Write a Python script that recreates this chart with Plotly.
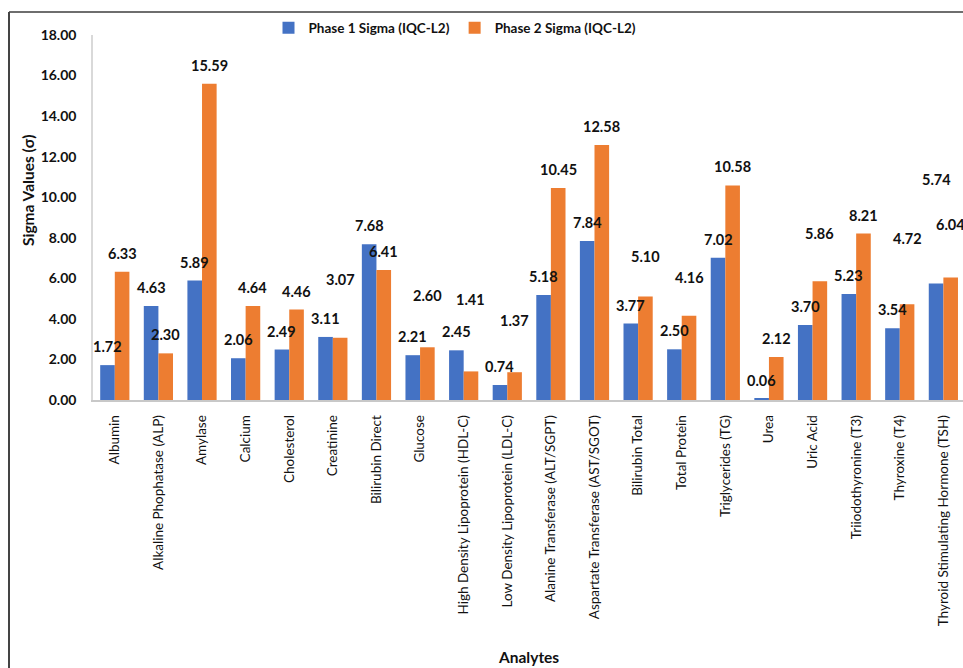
import plotly.graph_objects as go

# ---------------- data ----------------
analytes = [
    "Albumin", "Alkaline Phophatase (ALP)", "Amylase", "Calcium", "Cholesterol",
    "Creatinine", "Bilirubin Direct", "Glucose", "High Density Lipoprotein (HDL-C)",
    "Low Density Lipoprotein (LDL-C)", "Alanine Transferase (ALT/SGPT)",
    "Aspartate Transferase (AST/SGOT)", "Bilirubin Total", "Total Protein",
    "Triglycerides (TG)", "Urea", "Uric Acid", "Triiodothyronine (T3)",
    "Thyroxine (T4)", "Thyroid Stimulating Hormone (TSH)",
]
phase1_sigma = [1.72, 4.63, 5.89, 2.06, 2.49, 3.11, 7.68, 2.21, 2.45, 0.74,
                5.18, 7.84, 3.77, 2.50, 7.02, 0.06, 3.70, 5.23, 3.54, 5.74]
phase2_sigma = [6.33, 2.30, 15.59, 4.64, 4.46, 3.07, 6.41, 2.60, 1.41, 1.37,
                10.45, 12.58, 5.10, 4.16, 10.58, 2.12, 5.86, 8.21, 4.72, 6.04]
y_ticks = [0, 2, 4, 6, 8, 10, 12, 14, 16, 18]

# ---------------- styling / layout ----------------
# extra upward shift (px) of data labels that were moved in the original
phase1_label_lift = [0]*19 + [86]
phase2_label_lift = [0, 0, 0, 0, 0, 40, 0, 33, 53, 33,
                     0, 0, 22, 20, 0, 0, 29, 0, 47, 35]

W, H = 963, 668
ML, MR, MT, MB = 93, 0, 35, 268
PW, PH = W - ML - MR, H - MT - MB

BLUE = "#4472C4"
ORANGE = "#ED7D31"
FONT = "Lato"
TXT = "#111111"


def px_x(px):
    return (px - ML) / PW


def px_y(py):
    return (H - MB - py) / PH


fig = go.Figure()
fig.add_trace(go.Bar(x=analytes, y=phase1_sigma, name="Phase 1 Sigma (IQC-L2)",
                     marker=dict(color=BLUE, line=dict(width=0))))
fig.add_trace(go.Bar(x=analytes, y=phase2_sigma, name="Phase 2 Sigma (IQC-L2)",
                     marker=dict(color=ORANGE, line=dict(width=0))))

x_range = [-0.5, 19.45]
unit_px = PW / (x_range[1] - x_range[0])
bargap = 0.33
half_bar = unit_px * (1 - bargap) / 4

annotations = []
for i, a in enumerate(analytes):
    for vals, lift, sh in ((phase1_sigma, phase1_label_lift, -half_bar),
                           (phase2_sigma, phase2_label_lift, half_bar)):
        annotations.append(dict(
            x=a, y=vals[i], xref="x", yref="y",
            text=f"<b>{vals[i]:.2f}</b>", showarrow=False,
            xanchor="center", yanchor="middle",
            xshift=sh, yshift=18.5 + lift[i],
            font=dict(family=FONT, size=14.5, color=TXT),
        ))

annotations.append(dict(
    x=px_x(28), y=px_y(190), xref="paper", yref="paper",
    text="<b>Sigma Values (σ)</b>", textangle=-90, showarrow=False,
    xanchor="center", yanchor="middle",
    font=dict(family=FONT, size=15.5, color=TXT)))
annotations.append(dict(
    x=px_x(528), y=px_y(657), xref="paper", yref="paper",
    text="<b>Analytes</b>", showarrow=False,
    xanchor="center", yanchor="middle",
    font=dict(family=FONT, size=15.5, color=TXT)))

shapes = [
    dict(type="line", xref="paper", yref="paper",
         x0=px_x(9), x1=px_x(W + 5), y0=px_y(12), y1=px_y(12),
         line=dict(color="#6e6e6e", width=2)),
    dict(type="line", xref="paper", yref="paper",
         x0=px_x(9), x1=px_x(9), y0=px_y(12), y1=px_y(H + 5),
         line=dict(color="#444444", width=2)),
]

fig.update_layout(
    width=W, height=H,
    margin=dict(l=ML, r=MR, t=MT, b=MB, pad=0),
    paper_bgcolor="white", plot_bgcolor="white",
    barmode="group", bargap=bargap, bargroupgap=0,
    font=dict(family=FONT, color=TXT),
    showlegend=True,
    legend=dict(orientation="h", x=px_x(455), xanchor="center",
                y=px_y(28), yanchor="middle",
                font=dict(family=FONT, size=13.5, color=TXT, weight="bold"),
                itemwidth=30, tracegroupgap=0),
    xaxis=dict(range=x_range, tickangle=-90, showgrid=False,
               showline=True, linecolor="#c8c8c8", linewidth=1.5,
               ticks="", ticklabelstandoff=8,
               tickfont=dict(family=FONT, size=13.5, color=TXT)),
    yaxis=dict(range=[0, 18], tickvals=y_ticks, tickformat=".2f",
               showgrid=False, zeroline=False,
               showline=True, linecolor="#d9d9d9", linewidth=1.5,
               ticks="", ticklabelstandoff=12,
               tickfont=dict(family=FONT, size=14, color=TXT, weight="bold")),
    annotations=annotations,
    shapes=shapes,
)

fig.write_html("out.html")
